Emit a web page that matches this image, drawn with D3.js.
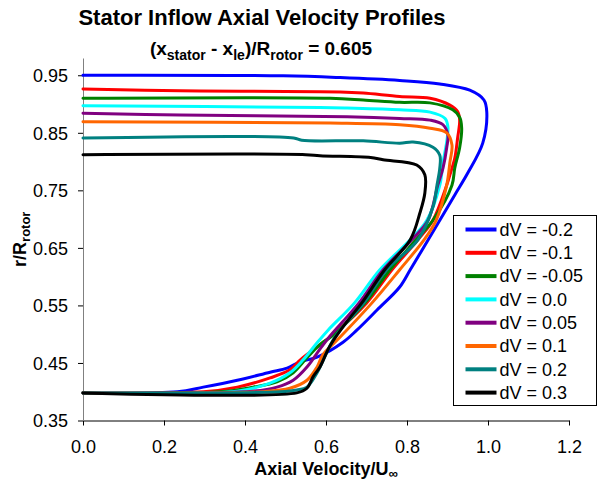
<!DOCTYPE html>
<html>
<head>
<meta charset="utf-8">
<script src="https://cdn.jsdelivr.net/npm/d3@7"></script>
<style>
  html, body { margin: 0; padding: 0; background: #fff; }
  svg { display: block; font-family: "Liberation Sans", Arial, sans-serif; }
</style>
</head>
<body>
<svg id="chart" width="605" height="485"></svg>
<script>
// series values, [axial velocity / U_inf, r / R_rotor], ordered hub -> tip
const dvm020 = [[0,0.398],[0.233,0.4],[0.297,0.408],[0.381,0.42],[0.462,0.434],[0.504,0.441],[0.536,0.452],[0.578,0.46],[0.642,0.486],[0.676,0.507],[0.726,0.542],[0.782,0.582],[0.808,0.612],[0.837,0.646],[0.881,0.698],[0.918,0.742],[0.95,0.78],[0.987,0.832],[0.997,0.886],[0.99,0.907],[0.955,0.924],[0.881,0.935],[0.782,0.941],[0.635,0.946],[0.494,0.949],[0,0.95]]
const dvm010 = [[0,0.398],[0.297,0.4],[0.381,0.408],[0.462,0.424],[0.511,0.438],[0.536,0.455],[0.561,0.469],[0.615,0.498],[0.7,0.554],[0.763,0.612],[0.827,0.664],[0.864,0.698],[0.898,0.759],[0.906,0.777],[0.918,0.806],[0.925,0.841],[0.93,0.872],[0.925,0.887],[0.906,0.898],[0.857,0.91],[0.782,0.913],[0.692,0.919],[0.635,0.921],[0.24,0.923],[0,0.926]]
const dvm005 = [[0,0.398],[0.339,0.4],[0.42,0.408],[0.479,0.417],[0.519,0.433],[0.553,0.459],[0.585,0.482],[0.617,0.498],[0.696,0.554],[0.758,0.612],[0.822,0.664],[0.864,0.698],[0.911,0.759],[0.918,0.789],[0.93,0.824],[0.935,0.858],[0.93,0.877],[0.913,0.89],[0.857,0.902],[0.782,0.903],[0.692,0.907],[0.61,0.91],[0,0.91]]
const dv000 = [[0,0.398],[0.381,0.401],[0.462,0.415],[0.511,0.433],[0.543,0.455],[0.578,0.485],[0.605,0.507],[0.67,0.554],[0.733,0.612],[0.808,0.664],[0.849,0.698],[0.881,0.759],[0.889,0.799],[0.898,0.834],[0.901,0.86],[0.894,0.875],[0.857,0.886],[0.782,0.89],[0.652,0.893],[0.585,0.894],[0,0.897]]
const dv005 = [[0,0.398],[0.42,0.401],[0.479,0.408],[0.519,0.42],[0.553,0.443],[0.578,0.467],[0.602,0.49],[0.681,0.554],[0.741,0.612],[0.812,0.664],[0.852,0.698],[0.876,0.759],[0.889,0.789],[0.898,0.824],[0.901,0.846],[0.889,0.864],[0.857,0.872],[0.782,0.875],[0.652,0.878],[0.24,0.881],[0,0.884]]
const dv010 = [[0,0.398],[0.445,0.4],[0.511,0.406],[0.553,0.42],[0.578,0.443],[0.592,0.464],[0.635,0.495],[0.713,0.554],[0.782,0.612],[0.842,0.664],[0.872,0.698],[0.898,0.759],[0.906,0.799],[0.911,0.829],[0.898,0.85],[0.857,0.858],[0.782,0.864],[0.61,0.867],[0,0.869]]
const dv020 = [[0,0.398],[0.487,0.4],[0.528,0.403],[0.553,0.408],[0.578,0.433],[0.622,0.495],[0.693,0.554],[0.75,0.612],[0.827,0.664],[0.864,0.721],[0.874,0.759],[0.881,0.789],[0.881,0.811],[0.864,0.825],[0.815,0.834],[0.782,0.832],[0.692,0.836],[0.54,0.837],[0.52,0.841],[0,0.841]]
const dv030 = [[0,0.398],[0.528,0.398],[0.553,0.406],[0.568,0.426],[0.585,0.443],[0.61,0.48],[0.655,0.525],[0.688,0.554],[0.745,0.612],[0.808,0.664],[0.832,0.711],[0.844,0.745],[0.844,0.777],[0.824,0.794],[0.741,0.803],[0.71,0.807],[0.585,0.81],[0.55,0.812],[0,0.812]]

const seriesLabels = ['dV = -0.2', 'dV = -0.1', 'dV = -0.05', 'dV = 0.0', 'dV = 0.05', 'dV = 0.1', 'dV = 0.2', 'dV = 0.3']
const seriesData = [dvm020, dvm010, dvm005, dv000, dv005, dv010, dv020, dv030]

const xTicks = [0, 0.2, 0.4, 0.6, 0.8, 1.0, 1.2]
const yTicks = [0.35, 0.45, 0.55, 0.65, 0.75, 0.85, 0.95]

const COLORS = ['#0000ff', '#ff0000', '#008000', '#00ffff', '#800080', '#ff6600', '#008080', '#000000']
const PLOT = { left: 83, right: 569, top: 58, bottom: 420.5 }

const svg = d3.select('#chart')

let x = d3.scaleLinear().domain([0, 1.2]).range([PLOT.left, PLOT.right])
let y = d3.scaleLinear().domain([0.35, 0.98]).range([PLOT.bottom, PLOT.top])

// title
let title = svg.append('g').attr('font-weight', 'bold').attr('text-anchor', 'middle').attr('fill', '#000')
title.append('text').attr('x', 262).attr('y', 25).attr('font-size', 22)
  .text('Stator Inflow Axial Velocity Profiles')

let sub = title.append('text').attr('x', 261).attr('y', 55).attr('font-size', 19)
sub.append('tspan').text('(x')
sub.append('tspan').attr('dy', 5).attr('font-size', 14).text('stator')
sub.append('tspan').attr('dy', -5).text(' - x')
sub.append('tspan').attr('dy', 5).attr('font-size', 14).text('le')
sub.append('tspan').attr('dy', -5).text(')/R')
sub.append('tspan').attr('dy', 5).attr('font-size', 14).text('rotor')
sub.append('tspan').attr('dy', -5).text(' = 0.605')

// axes
let xAxis = svg.append('g')
  .attr('transform', 'translate(0,' + PLOT.bottom + ')')
  .call(d3.axisBottom(x).tickValues(xTicks).tickFormat(d3.format('.1f')).tickSize(5).tickSizeOuter(0))
xAxis.select('.domain').attr('stroke', '#000')
xAxis.selectAll('.tick line').attr('stroke', '#000')
xAxis.selectAll('.tick text').attr('font-size', 18).attr('fill', '#000').attr('dy', '1.35em')
  .attr('font-family', '"Liberation Sans", Arial, sans-serif')

let yAxis = svg.append('g')
  .attr('transform', 'translate(' + PLOT.left + ',0)')
  .call(d3.axisLeft(y).tickValues(yTicks).tickFormat(d3.format('.2f')).tickSize(5).tickSizeOuter(0))
yAxis.select('.domain').attr('stroke', '#808080')
yAxis.selectAll('.tick line').attr('stroke', '#000')
yAxis.selectAll('.tick text').attr('font-size', 18).attr('fill', '#000').attr('x', -15).attr('dy', '0.35em')
  .attr('font-family', '"Liberation Sans", Arial, sans-serif')

// axis titles
let xt = svg.append('text').attr('x', (PLOT.left + PLOT.right) / 2).attr('y', 475)
  .attr('text-anchor', 'middle').attr('font-weight', 'bold').attr('font-size', 18)
xt.append('tspan').text('Axial Velocity/U')
xt.append('tspan').attr('dy', 3).attr('font-size', 13).text('\u221e')

let yt = svg.append('text')
  .attr('transform', 'translate(26,' + ((PLOT.top + PLOT.bottom) / 2) + ') rotate(-90)')
  .attr('text-anchor', 'middle').attr('font-weight', 'bold').attr('font-size', 18)
yt.append('tspan').text('r/R')
yt.append('tspan').attr('dy', 4).attr('font-size', 13).text('rotor')

// profiles
let line = d3.line()
  .x((d) => x(d[0]))
  .y((d) => y(d[1]))
  .curve(d3.curveCatmullRom.alpha(0.5))

svg.append('g').selectAll('path')
  .data(seriesData)
  .join('path')
    .attr('d', line)
    .attr('fill', 'none')
    .attr('stroke', (d, i) => COLORS[i])
    .attr('stroke-width', 3)
    .attr('stroke-linejoin', 'round')
    .attr('stroke-linecap', 'round')

// legend
let legend = svg.append('g').attr('transform', 'translate(453.5,215.5)')
legend.append('rect').attr('width', 143).attr('height', 190)
  .attr('fill', '#fff').attr('stroke', '#000').attr('stroke-width', 1)

let item = legend.selectAll('g.item')
  .data(seriesLabels)
  .join('g')
    .attr('class', 'item')
    .attr('transform', (d, i) => 'translate(0,' + (14 + i * 23.3) + ')')
item.append('line').attr('x1', 12).attr('x2', 43)
  .attr('stroke', (d, i) => COLORS[i]).attr('stroke-width', 4)
item.append('text').attr('x', 46).attr('dy', '0.35em').attr('font-size', 18).attr('fill', '#000')
  .text((d) => d)
</script>
</body>
</html>
